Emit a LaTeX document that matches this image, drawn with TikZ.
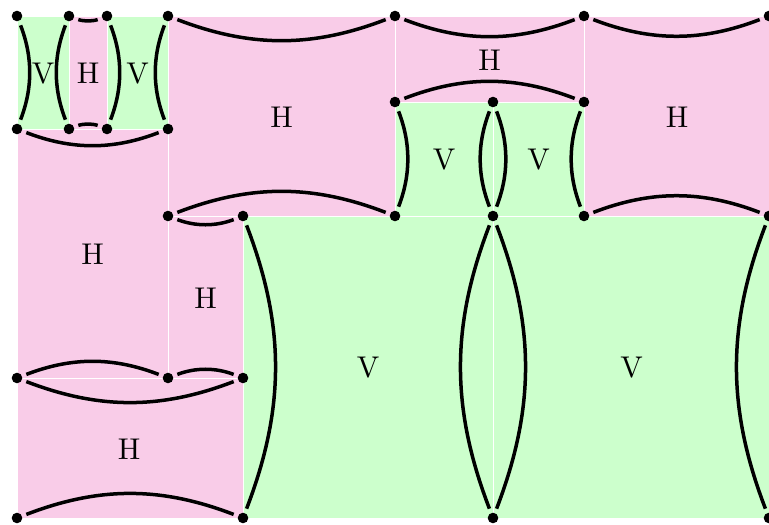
\documentclass[tikz,border=0pt]{standalone}
\usepackage{graphicx}
\definecolor{hpink}{RGB}{249,204,232}
\definecolor{vgreen}{RGB}{204,255,204}
\newcommand{\biglbl}[1]{\scalebox{3.0}{#1}}
\tikzset{
  pinkbox/.style={fill=hpink, draw=white, line width=1pt},
  greenbox/.style={fill=vgreen, draw=white, line width=1pt},
  vdot/.style={circle, fill=black, inner sep=0pt, minimum size=10.6pt},
  arcline/.style={line width=3.5pt, shorten <=10pt, shorten >=10pt},
  lbl/.style={inner sep=0pt},
}
\begin{document}
\begin{tikzpicture}[x=1pt,y=-1pt]
\clip (0,0) rectangle (769,525);
% regions
\path[greenbox] (17,16) rectangle (69,129);
\path[pinkbox] (69,16) rectangle (107,129);
\path[greenbox] (107,16) rectangle (168,129);
\path[pinkbox] (168,16) rectangle (395,216);
\path[pinkbox] (395,16) rectangle (584,102);
\path[greenbox] (395,102) rectangle (493,216);
\path[greenbox] (493,102) rectangle (584,216);
\path[pinkbox] (584,16) rectangle (780,216);
\path[pinkbox] (17,129) rectangle (168,378);
\path[pinkbox] (168,216) rectangle (243,378);
\path[pinkbox] (17,378) rectangle (243,518);
\path[greenbox] (243,216) rectangle (493,518);
\path[greenbox] (493,216) rectangle (780,518);
% labels
\node[lbl] (L1) at (43,73.5) {\biglbl{V}};
\node[lbl] (L2) at (88,73.5) {\biglbl{H}};
\node[lbl] (L3) at (137.5,73.5) {\biglbl{V}};
\node[lbl] (L4) at (281.5,117) {\biglbl{H}};
\node[lbl] (L5) at (489.5,60) {\biglbl{H}};
\node[lbl] (L6) at (444,160) {\biglbl{V}};
\node[lbl] (L7) at (538.5,160) {\biglbl{V}};
\node[lbl] (L8) at (677,117) {\biglbl{H}};
\node[lbl] (L9) at (92.5,254.5) {\biglbl{H}};
\node[lbl] (L10) at (205.5,298) {\biglbl{H}};
\node[lbl] (L11) at (129,449) {\biglbl{H}};
\node[lbl] (L12) at (368,368) {\biglbl{V}};
\node[lbl] (L13) at (631.5,368) {\biglbl{V}};
% dots
\node[vdot] (a1) at (17,16) {};
\node[vdot] (a2) at (69,16) {};
\node[vdot] (a3) at (107,16) {};
\node[vdot] (a4) at (168,16) {};
\node[vdot] (a5) at (395,16) {};
\node[vdot] (a6) at (584,16) {};
\node[vdot] (a7) at (769,16) {};
\node[vdot] (b1) at (17,129) {};
\node[vdot] (b2) at (69,129) {};
\node[vdot] (b3) at (107,129) {};
\node[vdot] (b4) at (168,129) {};
\node[vdot] (c1) at (395,102) {};
\node[vdot] (c2) at (493,102) {};
\node[vdot] (c3) at (584,102) {};
\node[vdot] (e1) at (168,216) {};
\node[vdot] (e2) at (243,216) {};
\node[vdot] (e3) at (395,216) {};
\node[vdot] (e4) at (493,216) {};
\node[vdot] (e5) at (584,216) {};
\node[vdot] (e6) at (769,216) {};
\node[vdot] (f1) at (17,378) {};
\node[vdot] (f2) at (168,378) {};
\node[vdot] (f3) at (243,378) {};
\node[vdot] (g1) at (17,518) {};
\node[vdot] (g2) at (243,518) {};
\node[vdot] (g3) at (493,518) {};
\node[vdot] (g4) at (769,518) {};
% arcs
\begin{scope}[arcline]
% V1
\draw (a1.center) to[bend left=21] (b1.center);
\draw (a2.center) to[bend right=21] (b2.center);
% H1
\draw (a2.center) to[bend right=21] (a3.center);
\draw (b2.center) to[bend left=21] (b3.center);
% V2
\draw (a3.center) to[bend left=21] (b3.center);
\draw (a4.center) to[bend right=21] (b4.center);
% H2
\draw (a4.center) to[bend right=21] (a5.center);
\draw (e1.center) to[bend left=21] (e3.center);
% H3
\draw (a5.center) to[bend right=21] (a6.center);
\draw (c1.center) to[bend left=21] (c3.center);
% V3
\draw (c1.center) to[bend left=21] (e3.center);
\draw (c2.center) to[bend right=21] (e4.center);
% V4
\draw (c2.center) to[bend left=21] (e4.center);
\draw (c3.center) to[bend right=21] (e5.center);
% H4
\draw (a6.center) to[bend right=21] (a7.center);
\draw (e5.center) to[bend left=21] (e6.center);
% H5
\draw (b1.center) to[bend right=21] (b4.center);
\draw (f1.center) to[bend left=21] (f2.center);
% H6
\draw (e1.center) to[bend right=21] (e2.center);
\draw (f2.center) to[bend left=21] (f3.center);
% H7
\draw (f1.center) to[bend right=21] (f3.center);
\draw (g1.center) to[bend left=21] (g2.center);
% V5
\draw (e2.center) to[bend left=21] (g2.center);
\draw (e4.center) to[bend right=21] (g3.center);
% V6
\draw (e4.center) to[bend left=21] (g3.center);
\draw (e6.center) to[bend right=21] (g4.center);
\end{scope}
\end{tikzpicture}
\end{document}
